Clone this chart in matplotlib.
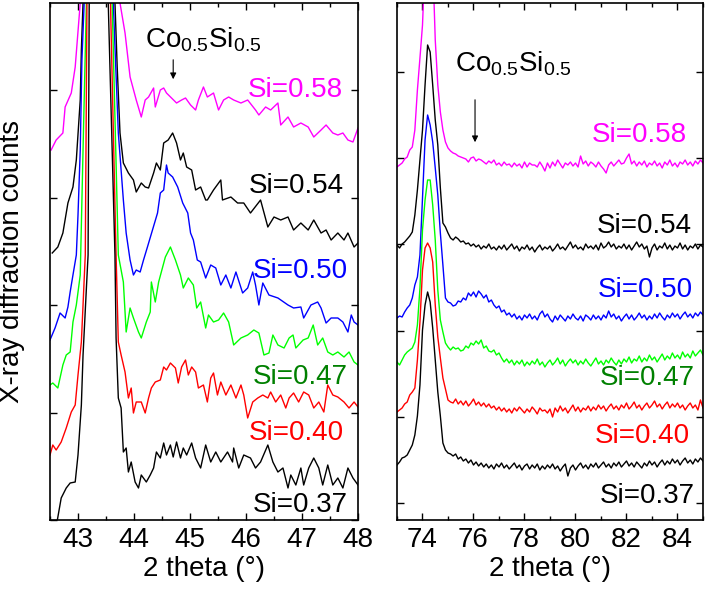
import numpy as np
import matplotlib
matplotlib.use("Agg")
import matplotlib.pyplot as plt
from matplotlib.ticker import MultipleLocator, FixedLocator

plt.rcParams['font.family'] = ['Liberation Sans', 'DejaVu Sans']
plt.rcParams['mathtext.fontset'] = 'custom'
plt.rcParams['mathtext.rm'] = 'Liberation Sans'
plt.rcParams['mathtext.it'] = 'Liberation Sans:italic'

# ---------------- left panel data (2 theta 42.5-48) ----------------
mag_l_x = [42.52, 42.61, 42.73, 42.77, 42.88, 42.95, 43.04, 43.35, 43.75, 43.84, 43.93, 44.04, 44.13, 44.20, 44.26, 44.35, 44.38, 44.47, 44.53, 44.58, 44.67, 44.76, 44.85, 44.92, 45.01, 45.10, 45.15, 45.24, 45.31, 45.42, 45.51, 45.60, 45.69, 45.78, 45.91, 46.03, 46.17, 46.23, 46.35, 46.44, 46.57, 46.62, 46.75, 46.85, 46.98, 47.11, 47.21, 47.34, 47.43, 47.55, 47.64, 47.73, 47.82, 47.91, 48.00]
mag_l_y = [370, 380, 387, 413, 427, 453, 517, 3000, 517, 487, 443, 420, 403, 420, 423, 432, 413, 430, 432, 427, 422, 417, 420, 422, 415, 410, 420, 433, 423, 427, 410, 420, 423, 420, 417, 420, 410, 405, 413, 410, 417, 395, 403, 393, 397, 393, 383, 390, 395, 387, 385, 387, 380, 378, 392]

b54_l_x = [42.54, 42.64, 42.73, 42.82, 42.91, 42.97, 43.04, 43.06, 43.09, 43.35, 43.66, 43.70, 43.75, 43.81, 43.90, 43.99, 44.04, 44.13, 44.20, 44.26, 44.35, 44.40, 44.47, 44.53, 44.61, 44.69, 44.76, 44.83, 44.88, 44.94, 45.03, 45.10, 45.19, 45.28, 45.31, 45.42, 45.55, 45.58, 45.73, 45.85, 45.96, 46.08, 46.26, 46.39, 46.50, 46.62, 46.75, 46.85, 46.98, 47.11, 47.21, 47.34, 47.43, 47.52, 47.64, 47.75, 47.82, 47.93, 48.00]
b54_l_y = [267, 273, 287, 317, 333, 360, 420, 470, 517, 3000, 517, 453, 387, 357, 347, 340, 328, 337, 333, 332, 347, 357, 350, 377, 380, 387, 377, 360, 367, 353, 350, 330, 333, 320, 320, 330, 340, 320, 323, 317, 317, 307, 320, 293, 303, 300, 303, 290, 297, 290, 300, 287, 290, 280, 287, 280, 287, 273, 277]

blu_l_x = [42.50, 42.59, 42.68, 42.77, 42.82, 42.86, 42.91, 42.97, 43.00, 43.04, 43.07, 43.11, 43.35, 43.63, 43.72, 43.81, 43.86, 43.93, 43.99, 44.04, 44.11, 44.17, 44.24, 44.33, 44.42, 44.47, 44.53, 44.58, 44.61, 44.69, 44.78, 44.87, 44.96, 45.01, 45.06, 45.13, 45.19, 45.28, 45.37, 45.46, 45.55, 45.64, 45.73, 45.82, 45.94, 46.03, 46.12, 46.17, 46.23, 46.30, 46.41, 46.57, 46.75, 46.85, 46.98, 47.03, 47.16, 47.28, 47.34, 47.43, 47.52, 47.64, 47.73, 47.82, 47.88, 47.93, 48.00]
blu_l_y = [180, 192, 207, 202, 213, 228, 245, 265, 305, 370, 460, 517, 3000, 517, 387, 320, 287, 260, 245, 250, 248, 260, 273, 290, 307, 327, 330, 355, 347, 343, 333, 317, 307, 287, 280, 260, 258, 242, 255, 252, 235, 245, 232, 248, 227, 232, 248, 235, 215, 237, 225, 222, 215, 212, 213, 202, 215, 218, 212, 197, 202, 202, 198, 188, 205, 198, 195]

grn_l_x = [42.50, 42.55, 42.64, 42.73, 42.79, 42.86, 42.91, 42.97, 43.04, 43.09, 43.15, 43.35, 43.61, 43.72, 43.81, 43.86, 43.93, 43.99, 44.08, 44.13, 44.22, 44.29, 44.31, 44.38, 44.44, 44.56, 44.65, 44.74, 44.83, 44.88, 44.97, 45.06, 45.12, 45.19, 45.28, 45.33, 45.42, 45.51, 45.60, 45.69, 45.78, 45.91, 46.03, 46.14, 46.23, 46.32, 46.41, 46.48, 46.57, 46.68, 46.77, 46.84, 46.89, 47.02, 47.11, 47.20, 47.28, 47.37, 47.46, 47.55, 47.64, 47.75, 47.84, 47.93, 48.00]
grn_l_y = [135, 137, 132, 155, 165, 168, 198, 215, 245, 370, 517, 3000, 517, 265, 238, 188, 212, 202, 188, 182, 198, 208, 238, 218, 238, 263, 273, 260, 245, 232, 242, 235, 212, 218, 192, 205, 198, 200, 207, 198, 175, 182, 185, 190, 187, 165, 167, 185, 175, 172, 182, 185, 172, 180, 182, 195, 175, 182, 168, 165, 168, 163, 168, 158, 155]

red_l_x = [42.50, 42.55, 42.61, 42.70, 42.79, 42.88, 42.95, 43.00, 43.06, 43.09, 43.13, 43.16, 43.35, 43.58, 43.68, 43.72, 43.77, 43.84, 43.90, 43.95, 43.99, 44.04, 44.13, 44.20, 44.26, 44.31, 44.38, 44.47, 44.53, 44.58, 44.65, 44.74, 44.79, 44.85, 44.92, 44.97, 45.03, 45.10, 45.15, 45.24, 45.31, 45.37, 45.42, 45.49, 45.55, 45.64, 45.73, 45.82, 45.91, 45.96, 46.03, 46.12, 46.21, 46.30, 46.39, 46.44, 46.53, 46.62, 46.71, 46.77, 46.85, 46.94, 47.03, 47.12, 47.21, 47.30, 47.39, 47.46, 47.55, 47.64, 47.75, 47.84, 47.93, 48.00]
red_l_y = [65, 75, 70, 78, 92, 108, 115, 145, 178, 215, 265, 517, 3000, 517, 265, 178, 165, 148, 122, 132, 107, 118, 118, 107, 122, 132, 138, 140, 153, 150, 157, 152, 137, 153, 160, 145, 153, 148, 132, 135, 118, 142, 147, 125, 138, 125, 135, 122, 135, 125, 102, 118, 122, 125, 122, 128, 118, 125, 112, 122, 127, 118, 128, 125, 112, 118, 108, 135, 125, 123, 118, 112, 118, 113]

b37_l_x = [42.60, 42.70, 42.79, 42.86, 42.95, 43.00, 43.06, 43.09, 43.15, 43.18, 43.20, 43.35, 43.54, 43.66, 43.68, 43.72, 43.77, 43.81, 43.86, 43.90, 43.95, 44.02, 44.08, 44.13, 44.22, 44.29, 44.35, 44.40, 44.47, 44.53, 44.58, 44.65, 44.70, 44.76, 44.83, 44.88, 44.94, 45.03, 45.10, 45.19, 45.28, 45.37, 45.46, 45.55, 45.67, 45.76, 45.78, 45.87, 45.96, 46.08, 46.17, 46.26, 46.39, 46.48, 46.57, 46.66, 46.75, 46.80, 46.89, 46.98, 47.03, 47.12, 47.21, 47.30, 47.37, 47.46, 47.55, 47.64, 47.73, 47.82, 47.91, 48.00]
b37_l_y = [-10, 22, 32, 37, 38, 65, 115, 165, 232, 265, 517, 3000, 517, 265, 182, 122, 112, 68, 72, 48, 58, 38, 32, 45, 38, 45, 52, 68, 62, 77, 65, 75, 63, 78, 62, 72, 65, 77, 62, 52, 75, 58, 68, 58, 68, 58, 72, 52, 65, 62, 52, 58, 75, 58, 48, 52, 32, 45, 35, 52, 35, 52, 62, 52, 35, 55, 35, 42, 32, 52, 42, 35]

# ---------------- right panel data (2 theta 73-85, step 0.1) ----------------
two_theta_r = np.round(np.arange(73.0, 85.0001, 0.1), 1)
mag_r = [353, 355, 357, 361, 363, 370, 373, 390, 430, 462,
         495, 560, 700, 700, 560, 480, 435, 408, 390, 378,
         372, 369, 367, 366, 364, 363, 362, 361, 358, 362,
         363, 359, 361, 360, 358, 356, 359, 357, 360, 355,
         357, 354, 358, 355, 356, 353, 357, 354, 356, 352,
         358, 353, 357, 355, 355, 353, 358, 354, 349, 357,
         352, 358, 354, 360, 356, 352, 357, 355, 358, 354,
         357, 353, 364, 356, 359, 354, 358, 356, 353, 358,
         354, 351, 347, 355, 358, 354, 357, 360, 356, 357,
         362, 366, 356, 359, 354, 358, 355, 359, 353, 357,
         355, 359, 354, 357, 352, 358, 355, 360, 354, 357,
         353, 358, 356, 360, 355, 358, 354, 359, 356, 360,
         357]
b54_r = [275, 272, 276, 278, 281, 284, 288, 305, 330, 360,
         390, 435, 475, 468, 435, 400, 375, 332, 297, 293,
         287, 282, 280, 283, 281, 278, 279, 276, 277, 274,
         276, 273, 275, 271, 274, 272, 276, 271, 273, 270,
         274, 271, 275, 270, 273, 276, 271, 274, 269, 273,
         271, 275, 270, 273, 268, 272, 275, 270, 273, 271,
         274, 269, 272, 276, 271, 273, 270, 274, 278, 272,
         275, 271, 273, 270, 276, 272, 274, 271, 275, 270,
         277, 272, 274, 278, 273, 276, 271, 274, 272, 276,
         271, 275, 270, 274, 278, 273, 276, 271, 274, 263,
         272, 276, 270, 274, 272, 277, 271, 275, 270, 274,
         272, 277, 271, 275, 270, 274, 272, 276, 271, 275,
         273]
blu_r = [202, 204, 203, 208, 212, 215, 222, 235, 243, 265,
         322, 380, 405, 395, 378, 352, 325, 287, 255, 222,
         218, 217, 214, 215, 219, 218, 222, 220, 227, 224,
         228, 223, 229, 226, 222, 225, 218, 220, 215, 212,
         214, 208, 210, 205, 207, 203, 206, 201, 204, 200,
         205, 202, 206, 201, 204, 200, 206, 209, 203, 206,
         201, 198, 204, 200, 205, 202, 199, 204, 201, 206,
         202, 200, 204, 199, 205, 203, 200, 205, 201, 204,
         200, 205, 202, 209, 203, 206, 201, 204, 199, 203,
         206, 201, 205, 200, 203, 207, 202, 205, 200, 204,
         201, 206, 202, 207, 203, 200, 205, 202, 207, 203,
         206, 201, 205, 208, 203, 206, 202, 207, 204, 208,
         205]
grn_r = [158, 155, 160, 165, 168, 170, 172, 178, 195, 232,
         290, 320, 340, 340, 315, 280, 230, 200, 188, 177,
         173, 170, 173, 171, 172, 169, 170, 174, 172, 177,
         175, 179, 176, 180, 172, 174, 169, 168, 170, 165,
         167, 162, 158, 161, 157, 160, 155, 159, 156, 160,
         154, 158, 155, 159, 156, 161, 155, 158, 153, 157,
         160, 155, 158, 162, 156, 160, 154, 158, 161, 157,
         160, 155, 159, 156, 161, 157, 154, 158, 162, 156,
         159, 155, 160, 157, 162, 158, 155, 160, 156, 161,
         158, 163, 157, 161, 159, 164, 158, 162, 159, 165,
         160, 163, 158, 162, 166, 160, 164, 161, 167, 162,
         165, 161, 168, 163, 166, 162, 169, 164, 167, 170,
         165]
red_r = [108, 110, 112, 116, 118, 125, 128, 132, 160, 198,
         250, 272, 277, 272, 258, 215, 183, 162, 142, 131,
         120, 118, 117, 121, 116, 119, 115, 119, 114, 117,
         121, 115, 118, 114, 117, 113, 116, 112, 114, 110,
         113, 109, 112, 108, 111, 107, 112, 109, 113, 110,
         107, 111, 108, 113, 110, 106, 112, 109, 110, 107,
         111, 103, 112, 108, 114, 109, 112, 107, 111, 115,
         109, 113, 108, 112, 110, 114, 109, 113, 110, 115,
         111, 114, 109, 113, 116, 111, 114, 110, 115, 112,
         117, 111, 114, 118, 112, 115, 110, 114, 117, 112,
         115, 119, 113, 116, 111, 115, 118, 112, 116, 113,
         117, 112, 115, 110, 114, 117, 112, 115, 110, 120,
         112]
b37_r = [55, 58, 62, 63, 65, 70, 75, 85, 104, 135,
         190, 215, 228, 218, 192, 160, 128, 104, 77, 70,
         67, 66, 64, 66, 61, 63, 59, 61, 57, 60,
         55, 58, 54, 57, 53, 56, 52, 55, 51, 56,
         53, 57, 52, 55, 51, 54, 57, 52, 55, 50,
         54, 56, 51, 55, 52, 56, 50, 54, 51, 55,
         52, 56, 51, 54, 49, 53, 56, 44, 52, 55,
         50, 54, 57, 52, 55, 51, 56, 53, 57, 52,
         55, 58, 53, 56, 52, 57, 54, 58, 53, 56,
         59, 54, 57, 53, 58, 55, 52, 57, 54, 59,
         55, 58, 53, 57, 60, 55, 59, 56, 61, 57,
         60, 55, 59, 62, 57, 60, 56, 61, 58, 62,
         59]

labels = ['Si=0.58', 'Si=0.54', 'Si=0.50', 'Si=0.47', 'Si=0.40', 'Si=0.37']
line_colors = ['#ff00ff', '#000000', '#0000ff', '#00ff00', '#ff0000', '#000000']
text_colors = ['#ff00ff', '#000000', '#0000ff', '#008000', '#ff0000', '#000000']
left_x = [mag_l_x, b54_l_x, blu_l_x, grn_l_x, red_l_x, b37_l_x]
left_y = [mag_l_y, b54_l_y, blu_l_y, grn_l_y, red_l_y, b37_l_y]
right_y = [mag_r, b54_r, blu_r, grn_r, red_r, b37_r]
# label anchor (left edge, baseline) in data coordinates
left_lab_x = [46.03, 46.05, 46.12, 46.12, 46.05, 46.12]
left_lab_y = [423, 327, 242, 136, 80, 8]
right_lab_x = [80.65, 80.84, 80.88, 80.96, 80.76, 80.96]
right_lab_y = [378, 287, 223, 135, 77, 17]

W, H = 708, 590
fig = plt.figure(figsize=(W / 100, H / 100), dpi=100)
axL = fig.add_axes([50 / W, 70 / H, 308 / W, 517 / H])
axR = fig.add_axes([397 / W, 70 / H, 306 / W, 517 / H])

FS = 20
for xs, ys, c in zip(left_x, left_y, line_colors):
    axL.plot(xs, ys, color=c, lw=1.0)
for ys, c in zip(right_y, line_colors):
    axR.plot(two_theta_r, ys, color=c, lw=1.0)

for i in range(6):
    axL.text(left_lab_x[i], left_lab_y[i], labels[i], color=text_colors[i],
             fontsize=FS, ha='left', va='baseline')
    axR.text(right_lab_x[i], right_lab_y[i], labels[i], color=text_colors[i],
             fontsize=FS, ha='left', va='baseline')

co_label = r'Co$_{0.5}$Si$_{0.5}$'
axL.text(44.20, 473, co_label, fontsize=FS, ha='left', va='baseline')
axL.annotate('', xy=(44.70, 438), xytext=(44.70, 463),
             arrowprops=dict(arrowstyle='-|>', color='k', lw=0.8, mutation_scale=9))
axR.text(75.27, 448, co_label, fontsize=FS, ha='left', va='baseline')
axR.annotate('', xy=(76.06, 375), xytext=(76.06, 423),
             arrowprops=dict(arrowstyle='-|>', color='k', lw=0.8, mutation_scale=9))

axL.set_xlim(42.5, 48.0)
axL.set_ylim(0, 517)
axR.set_xlim(73.0, 85.0)
axR.set_ylim(0, 517)

axL.xaxis.set_major_locator(MultipleLocator(1))
axL.xaxis.set_minor_locator(MultipleLocator(0.5))
axL.yaxis.set_major_locator(MultipleLocator(107.5))
axR.xaxis.set_major_locator(MultipleLocator(2))
axR.xaxis.set_minor_locator(MultipleLocator(1))
axR.yaxis.set_major_locator(FixedLocator([17, 103.2, 189.4, 275.6, 361.8, 448]))

for ax in (axL, axR):
    ax.tick_params(axis='both', which='both', direction='in', top=True, right=True,
                   labelleft=False, labelsize=FS, width=1.0, pad=5)
    ax.tick_params(axis='both', which='major', length=5)
    ax.tick_params(axis='both', which='minor', length=3)
    for s in ax.spines.values():
        s.set_linewidth(1.2)
    ax.set_xlabel('2 theta (°)', fontsize=FS, labelpad=2)

axL.set_ylabel('X-ray diffraction counts', fontsize=FS)
axL.yaxis.set_label_coords(-0.08, 0.5)

fig.savefig('out.png', dpi=100)
